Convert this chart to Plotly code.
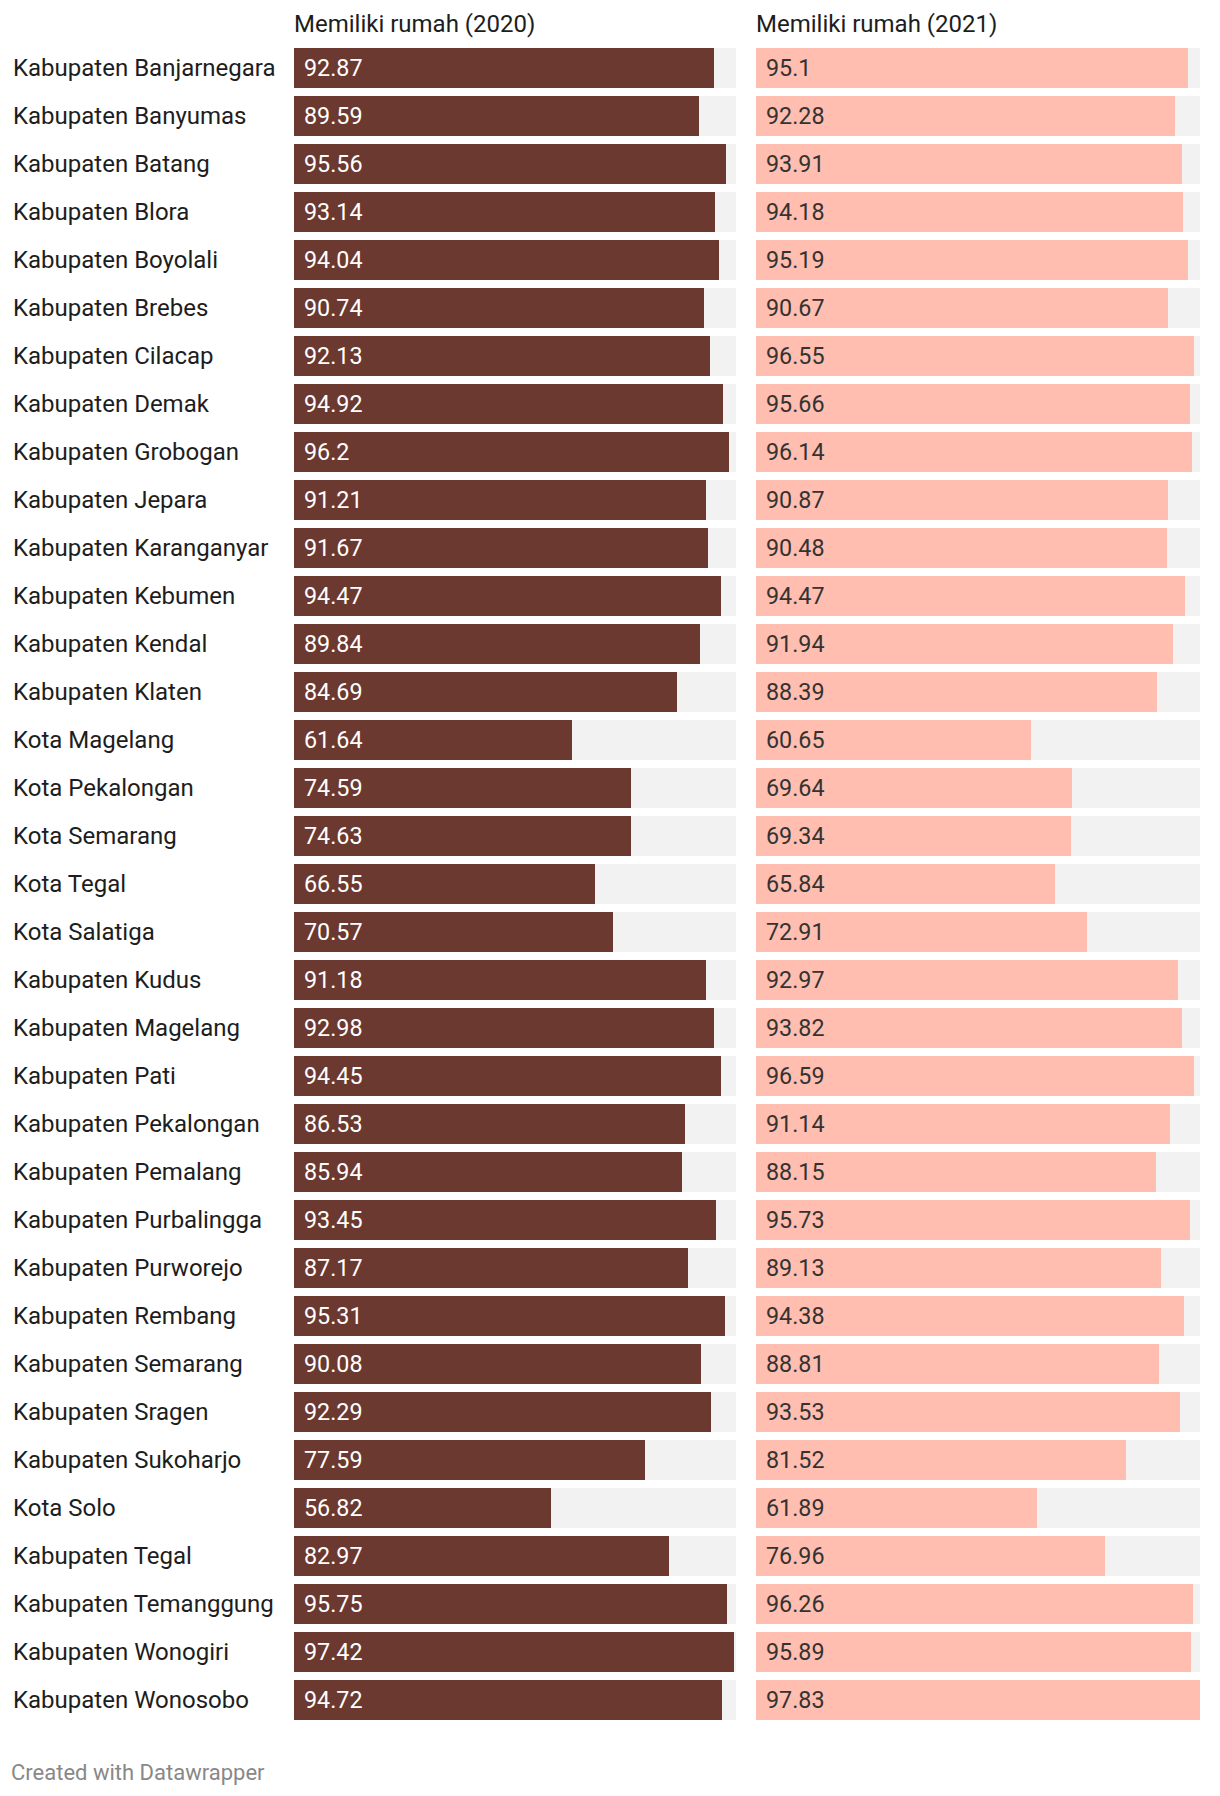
import plotly.graph_objects as go

regions = [
    "Kabupaten Banjarnegara", "Kabupaten Banyumas", "Kabupaten Batang", "Kabupaten Blora",
    "Kabupaten Boyolali", "Kabupaten Brebes", "Kabupaten Cilacap", "Kabupaten Demak",
    "Kabupaten Grobogan", "Kabupaten Jepara", "Kabupaten Karanganyar", "Kabupaten Kebumen",
    "Kabupaten Kendal", "Kabupaten Klaten", "Kota Magelang", "Kota Pekalongan",
    "Kota Semarang", "Kota Tegal", "Kota Salatiga", "Kabupaten Kudus",
    "Kabupaten Magelang", "Kabupaten Pati", "Kabupaten Pekalongan", "Kabupaten Pemalang",
    "Kabupaten Purbalingga", "Kabupaten Purworejo", "Kabupaten Rembang", "Kabupaten Semarang",
    "Kabupaten Sragen", "Kabupaten Sukoharjo", "Kota Solo", "Kabupaten Tegal",
    "Kabupaten Temanggung", "Kabupaten Wonogiri", "Kabupaten Wonosobo",
]
rumah_2020 = [92.87, 89.59, 95.56, 93.14, 94.04, 90.74, 92.13, 94.92, 96.2, 91.21,
              91.67, 94.47, 89.84, 84.69, 61.64, 74.59, 74.63, 66.55, 70.57, 91.18,
              92.98, 94.45, 86.53, 85.94, 93.45, 87.17, 95.31, 90.08, 92.29, 77.59,
              56.82, 82.97, 95.75, 97.42, 94.72]
rumah_2021 = [95.1, 92.28, 93.91, 94.18, 95.19, 90.67, 96.55, 95.66, 96.14, 90.87,
              90.48, 94.47, 91.94, 88.39, 60.65, 69.64, 69.34, 65.84, 72.91, 92.97,
              93.82, 96.59, 91.14, 88.15, 95.73, 89.13, 94.38, 88.81, 93.53, 81.52,
              61.89, 76.96, 96.26, 95.89, 97.83]
titles = ["Memiliki rumah (2020)", "Memiliki rumah (2021)"]

# page has a default 8px body margin; figure is sized/positioned to compensate
OFF = 8
W, H = 1220 - OFF, 1796 - OFF
FONT = "Roboto"


def px(p):
    return (p - OFF) / W


def py(p):
    return 1 - (p - OFF) / H


vmax = max(max(rumah_2020), max(rumah_2021))
n = len(regions)
idx = list(range(n))

fig = go.Figure()
panels = [
    ("x", "y", rumah_2020, "#6b392f", "#ffffff"),
    ("x2", "y", rumah_2021, "#ffbeb0", "#333333"),
]
for xa, ya, vals, col, tcol in panels:
    fig.add_trace(go.Bar(x=[vmax] * n, y=idx, orientation="h", xaxis=xa, yaxis=ya,
                         marker=dict(color="#f2f2f2", line=dict(width=0)),
                         width=0.83, hoverinfo="skip", showlegend=False))
    fig.add_trace(go.Bar(x=vals, y=idx, orientation="h", xaxis=xa, yaxis=ya,
                         marker=dict(color=col, line=dict(width=0)),
                         width=0.83, hoverinfo="skip", showlegend=False))

ann = []
for i, name in enumerate(regions):
    ann.append(dict(text=name, xref="paper", x=px(11), xanchor="left", yref="y", y=i,
                    yanchor="middle", showarrow=False,
                    font=dict(family=FONT, size=24, color="#1d1d1d")))
for xa, ya, vals, col, tcol in panels:
    for i, v in enumerate(vals):
        ann.append(dict(text=f"{v:g}", xref=xa, x=0, xanchor="left", xshift=8,
                        yref="y", y=i, yanchor="middle", showarrow=False,
                        font=dict(family=FONT, size=23.3, color=tcol)))

dom1 = [px(294), px(736)]
dom2 = [px(756), px(1200)]
for t, d in zip(titles, [dom1, dom2]):
    ann.append(dict(text=t, xref="paper", x=d[0], xanchor="left", xshift=-2,
                    yref="paper", y=py(24), yanchor="middle", showarrow=False,
                    font=dict(family=FONT, size=24, color="#1d1d1d")))
ann.append(dict(text="Created with Datawrapper", xref="paper", x=px(9), xanchor="left",
                yref="paper", y=py(1772), yanchor="middle", showarrow=False,
                font=dict(family=FONT, size=22, color="#888888")))

ydom = [py(1724), py(44)]
fig.update_layout(
    width=W, height=H, margin=dict(l=0, r=0, t=0, b=0),
    paper_bgcolor="white", plot_bgcolor="white",
    barmode="overlay", bargap=0,
    xaxis=dict(domain=dom1, range=[0, vmax], visible=False, fixedrange=True),
    xaxis2=dict(domain=dom2, range=[0, vmax], visible=False, fixedrange=True),
    yaxis=dict(domain=ydom, range=[n - 0.5, -0.5], visible=False, fixedrange=True),
    annotations=ann,
    font=dict(family=FONT),
)
fig.write_html("out.html")
